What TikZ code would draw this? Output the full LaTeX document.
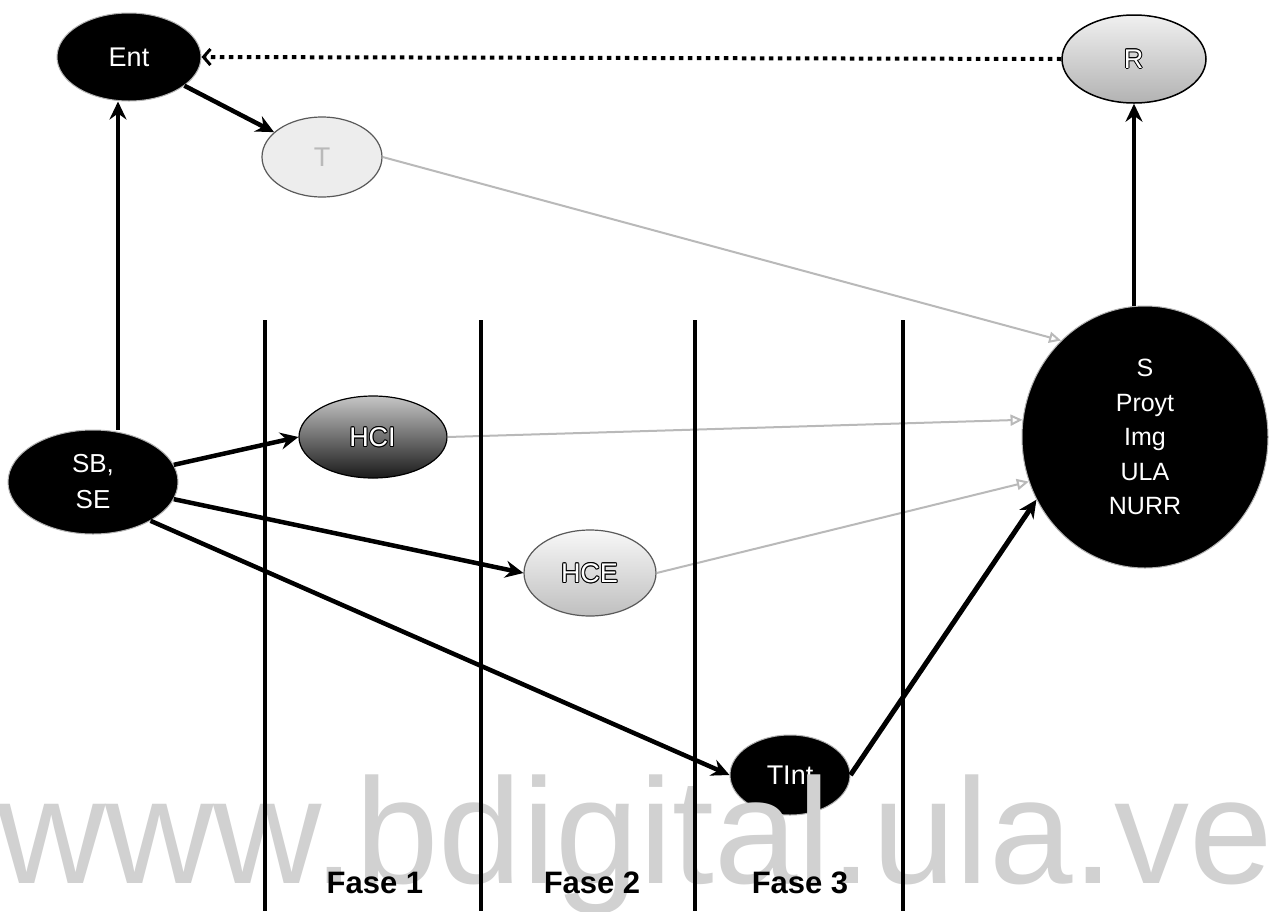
\documentclass[tikz,border=0pt]{standalone}
\usepackage{fontspec}
\setmainfont{Liberation Sans}
\usetikzlibrary{arrows.meta,shapes.geometric}
\newcommand\holtxt[2]{\leavevmode\ooalign{%
\kern-1pt{\color{black}#2}\cr
\kern1pt{\color{black}#2}\cr
\raisebox{1pt}{\color{black}#2}\cr
\raisebox{-1pt}{\color{black}#2}\cr
\kern-.7pt\raisebox{.7pt}{\color{black}#2}\cr
\kern.7pt\raisebox{.7pt}{\color{black}#2}\cr
\kern-.7pt\raisebox{-.7pt}{\color{black}#2}\cr
\kern.7pt\raisebox{-.7pt}{\color{black}#2}\cr
{\color{#1}#2}\cr}}
\tikzset{
  ell/.style={ellipse,inner sep=0pt,font=\fontsize{27}{30}\selectfont},
  blk/.style={ell,fill=black,draw=gray!60,line width=1pt,text=white},
  arr/.style={draw=black,line width=4.5pt,-{Stealth[length=18pt,width=17pt,inset=6pt]}},
  garr/.style={draw=gray!55,line width=2pt,-{Triangle[open,length=12pt,width=11pt]}},
  dotarr/.style={draw=black,line width=4pt,dash pattern=on 4.5pt off 4.5pt,-{Straight Barb[length=7pt,width=16pt,line width=3pt]}},
  vline/.style={draw=black,line width=3.5pt},
  fase/.style={font=\fontsize{31}{34}\selectfont\bfseries,inner sep=0pt,anchor=base}
}
\begin{document}
\begin{tikzpicture}[x=1pt,y=-1pt]
\useasboundingbox[fill=white] (0,0) rectangle (1272,911);
% nodes
\node[blk,minimum width=144pt,minimum height=88pt] (Ent) at (129,57) {Ent};
\node[ell,minimum width=144pt,minimum height=88pt,top color=gray!12,bottom color=gray!60,draw=black,line width=1.5pt] (R) at (1134,59) {\holtxt{white}{R}};
\node[ell,minimum width=120pt,minimum height=80pt,fill=gray!14,draw=gray!70!black,line width=1.2pt,text=gray!55] (T) at (322,157) {T};
\node[ell,minimum width=148pt,minimum height=82pt,top color=gray!45,bottom color=black!90,draw=black,line width=1.2pt] (HCI) at (373,437) {\holtxt{white}{HCI}};
\node[ell,minimum width=132pt,minimum height=86pt,top color=gray!6,bottom color=gray!50,draw=gray!70!black,line width=1.2pt] (HCE) at (590,573) {\holtxt{white}{HCE}};
\node[blk,minimum width=120pt,minimum height=80pt] (TInt) at (790,775) {TInt};
\node[blk,minimum width=246pt,minimum height=262pt,align=center,font=\fontsize{25}{34.5}\selectfont] (S) at (1145,437) {S\\Proyt\\Img\\ULA\\NURR};
\node[blk,minimum width=170pt,minimum height=104pt,align=center,font=\fontsize{26}{36}\selectfont] (SB) at (93,482) {SB,\\SE};
% connectors
\draw[arr] ([xshift=25pt]SB.north) -- ([xshift=-11pt]Ent.south);
\draw[arr] (Ent) -- (T);
\draw[dotarr] (R.west) -- (Ent.east);
\draw[arr] ([xshift=-11pt]S.north) -- (R.south);
\draw[garr] (T.east) -- (S.131);
\draw[garr] (HCI.east) -- (S.172);
\draw[garr] (HCE.east) -- (S.201);
\draw[arr] (SB.12) -- (HCI.west);
\draw[arr] (SB.-12) -- (HCE.west);
\draw[arr] (SB.-34) -- (TInt.west);
\draw[arr,line width=5pt] (TInt.east) -- (S.210);
% watermark
\node[anchor=base west,inner sep=0pt,text=gray!36,font=\fontsize{150}{150}\selectfont] (wm) at (-3,883) {www.bdigital.ula.ve};
% phase lines
\coordinate (l1t) at (265,320); \coordinate (l1b) at (265,911);
\coordinate (l2t) at (481,320); \coordinate (l2b) at (481,911);
\coordinate (l3t) at (695,320); \coordinate (l3b) at (695,911);
\coordinate (l4t) at (903,320); \coordinate (l4b) at (903,911);
\draw[vline] (l1t) -- (l1b);
\draw[vline] (l2t) -- (l2b);
\draw[vline] (l3t) -- (l3b);
\draw[vline] (l4t) -- (l4b);
\node[fase] (f1) at (375,893) {Fase 1};
\node[fase] (f2) at (592,893) {Fase 2};
\node[fase] (f3) at (800,893) {Fase 3};
\end{tikzpicture}
\end{document}
